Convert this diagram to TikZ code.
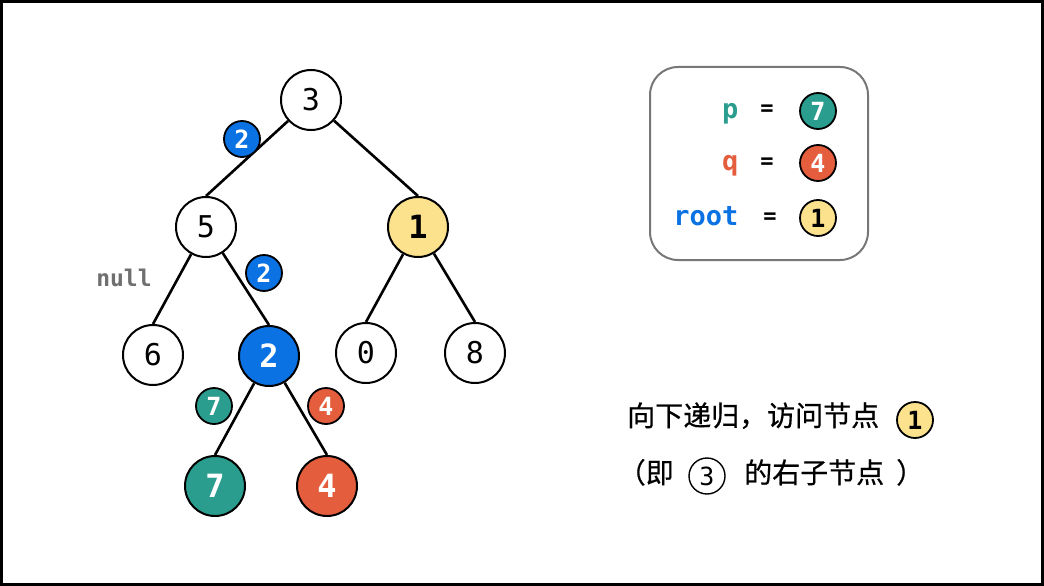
\documentclass[tikz,border=0pt]{standalone}
\usepackage{fontspec}
\newfontfamily\cjk[FakeBold=0.6]{Noto Sans CJK SC}
\newfontfamily\dmono{DejaVu Sans Mono}
\definecolor{tealc}{HTML}{2A9D8F}
\definecolor{redc}{HTML}{E45D3D}
\definecolor{bluec}{HTML}{0A72E2}
\definecolor{yelc}{HTML}{FDE28E}
\definecolor{grayc}{HTML}{6F6F6F}
\definecolor{boxc}{HTML}{777777}
\tikzset{
  tn/.style={circle, draw=black, line width=2pt, minimum size=60pt, inner sep=0pt, fill=white,
    font=\dmono\fontsize{30}{30}\selectfont},
  tnb/.style={tn, font=\dmono\bfseries\fontsize{32}{32}\selectfont},
  badge/.style={circle, draw=black, line width=1.8pt, minimum size=36pt, inner sep=0pt,
    text=white, font=\dmono\bfseries\fontsize{25}{25}\selectfont},
  edge/.style={line width=2.6pt},
  var/.style={anchor=base east, font=\dmono\bfseries\fontsize{27}{27}\selectfont},
  eq/.style={font=\dmono\bfseries\fontsize{22}{22}\selectfont},
  cn/.style={font=\cjk\fontsize{28}{28}\selectfont, inner sep=0pt},
}
\begin{document}
\begin{tikzpicture}[x=1pt,y=-1pt]
\useasboundingbox (0,0) rectangle (1044,586);
\draw[line width=3pt] (1.5,1.5) rectangle (1042.5,584.5);

% tree nodes
\node[tn] (n3) at (311,100) {3};
\node[tn] (n5) at (206,227) {5};
\node[tnb, fill=yelc] (n1) at (418,227) {1};
\node[tn] (n6) at (153,355) {6};
\node[tnb, fill=bluec, text=white] (n2) at (269,356) {2};
\node[tn] (n0) at (366,353) {0};
\node[tn] (n8) at (475,353) {8};
\node[tnb, fill=tealc, text=white] (n7) at (215,486) {7};
\node[tnb, fill=redc, text=white] (n4) at (327,486) {4};

% edges
\draw[edge] (n3) -- (n5.north);
\draw[edge] (n3) -- (n1.north);
\draw[edge] (n5) -- (n6.north);
\draw[edge] (n5) -- (n2.north);
\draw[edge] (n1) -- (n0.north);
\draw[edge] (n1) -- (n8.north);
\draw[edge] (n2) -- (n7.north);
\draw[edge] (n2) -- (n4.north);

% badges on edges
\node[badge, fill=bluec] (b1) at (242,139) {2};
\node[badge, fill=bluec] (b2) at (264,273) {2};
\node[badge, fill=tealc] (b3) at (214,406) {7};
\node[badge, fill=redc] (b4) at (326,406) {4};

\node[text=grayc, font=\dmono\bfseries\fontsize{23}{23}\selectfont] (nul) at (124,278) {null};

% legend box
\draw[draw=boxc, line width=2pt, rounded corners=28pt] (650,67) rectangle (868,260);
\node[var, text=tealc] (vp) at (742,118) {p};
\node[eq] (ep) at (767,110) {=};
\node[badge, fill=tealc] (cp) at (818,111) {7};
\node[var, text=redc] (vq) at (742,170) {q};
\node[eq] (eqq) at (767,163) {=};
\node[badge, fill=redc] (cq) at (818,163) {4};
\node[var, text=bluec] (vr) at (742,225) {root};
\node[eq] (er) at (770,218) {=};
\node[badge, fill=yelc, text=black] (cr) at (818,218) {1};

% explanation text
\node[cn, anchor=base west] (t1) at (627,426) {向下递归，访问节点};
\node[badge, fill=yelc, text=black] (c1) at (915,420) {1};
\node[cn, anchor=base east] (t2) at (674,483) {（即};
\node[circle, draw=black, line width=1.4pt, minimum size=36pt, inner sep=0pt,
  font=\dmono\fontsize{25}{25}\selectfont] (c3) at (707,476) {3};
\node[cn, anchor=base west] (t3) at (744,483) {的右子节点};
\node[cn, anchor=base west] (t4) at (896,483) {）};
\end{tikzpicture}
\end{document}
